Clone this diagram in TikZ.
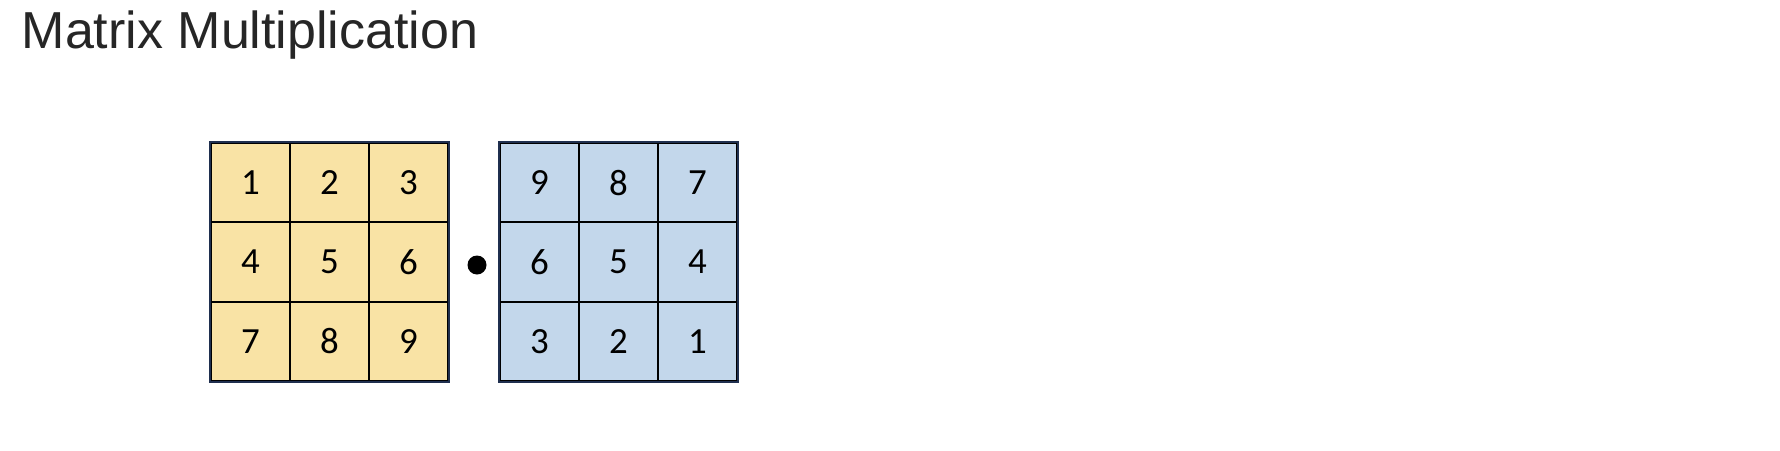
\documentclass[tikz,border=0pt]{standalone}
\usepackage{fontspec}
\setmainfont{Carlito}
\newfontfamily\titlefont{Liberation Sans}
\definecolor{cellyellow}{HTML}{F9E3A5}
\definecolor{cellblue}{HTML}{C3D7EB}
\definecolor{framenavy}{HTML}{1F2F4F}
\definecolor{titlegray}{HTML}{262626}
\tikzset{
  cell/.style={draw=black, line width=0.5pt, minimum size=0.79cm, inner sep=0pt,
    font=\fontsize{10.5}{12}\selectfont, transform shape},
  frame/.style={draw=framenavy, line width=0.6pt}
}
\begin{document}
\begin{tikzpicture}

        \useasboundingbox (0,0) rectangle (17.8,-4.5);

        \node[anchor=base west, inner sep=0pt, text=titlegray,
          font=\titlefont\fontsize{14.8}{17}\selectfont] (title) at (0.21,-0.48) {Matrix Multiplication};

        % first matrix
        \begin{scope}[every node/.style={cell, fill=cellyellow}]
          \node (a11) at (2.505,-1.827) {1};
          \node (a12) at (3.295,-1.827) {2};
          \node (a13) at (4.085,-1.827) {3};
          \node (a21) at (2.505,-2.62)  {4};
          \node (a22) at (3.295,-2.62)  {5};
          \node (a23) at (4.085,-2.62)  {6};
          \node (a31) at (2.505,-3.413) {7};
          \node (a32) at (3.295,-3.413) {8};
          \node (a33) at (4.085,-3.413) {9};
        \end{scope}

        % second matrix
        \begin{scope}[every node/.style={cell, fill=cellblue}]
          \node (b11) at (5.395,-1.827) {9};
          \node (b12) at (6.185,-1.827) {8};
          \node (b13) at (6.975,-1.827) {7};
          \node (b21) at (5.395,-2.62)  {6};
          \node (b22) at (6.185,-2.62)  {5};
          \node (b23) at (6.975,-2.62)  {4};
          \node (b31) at (5.395,-3.413) {3};
          \node (b32) at (6.185,-3.413) {2};
          \node (b33) at (6.975,-3.413) {1};
        \end{scope}

        \draw[frame] (a11.north west) rectangle (a33.south east);
        \draw[frame] (b11.north west) rectangle (b33.south east);

        \node[circle, fill=black, minimum size=0.19cm, inner sep=0pt] (dot) at (4.77,-2.65) {};

      \end{tikzpicture}
\end{document}
